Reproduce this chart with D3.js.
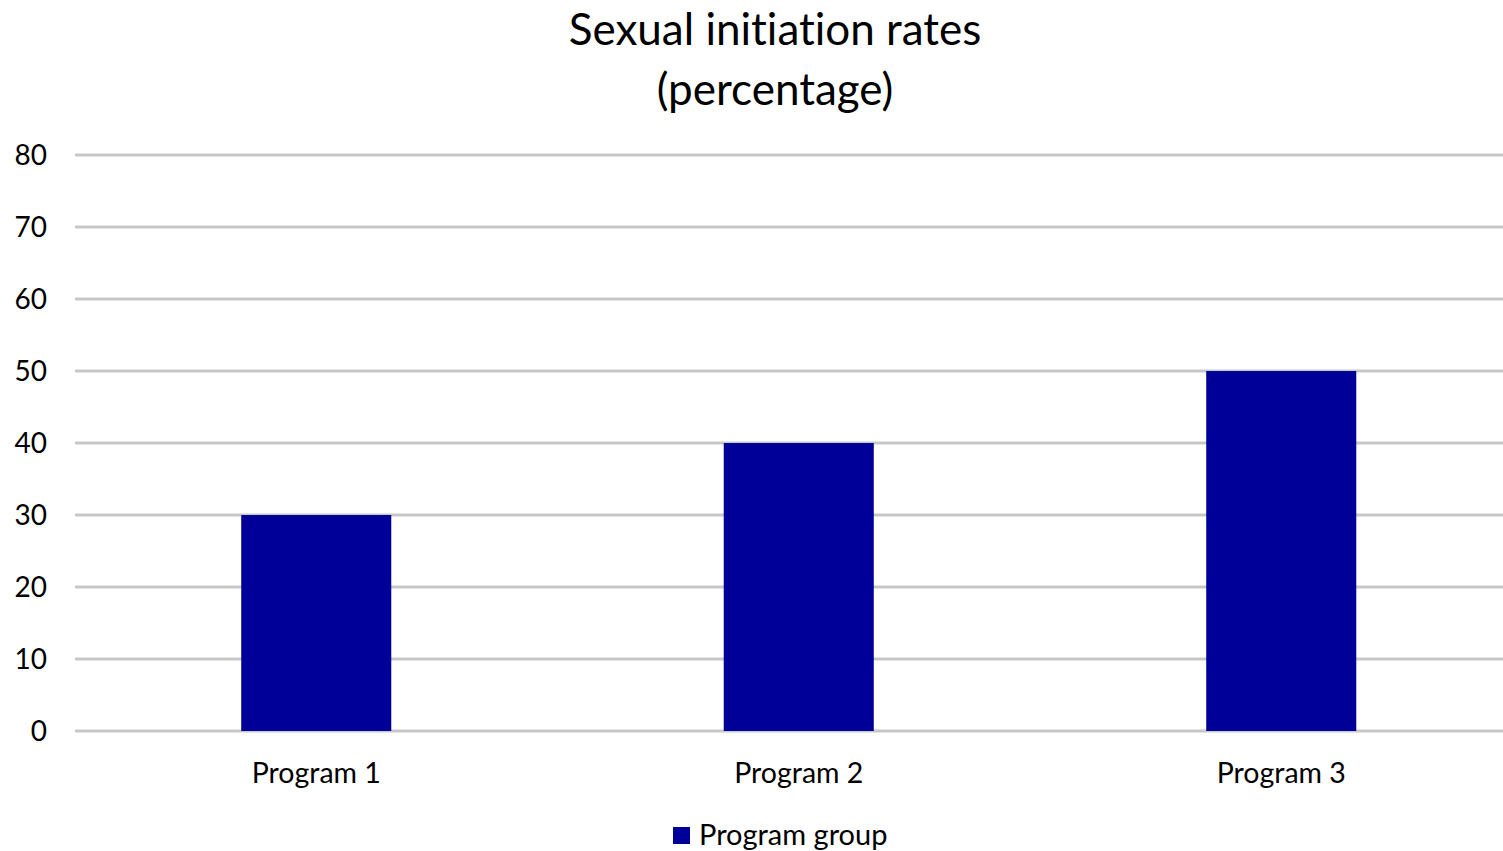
<!DOCTYPE html>
<html>
<head>
<meta charset="utf-8">
<script src="https://cdn.jsdelivr.net/npm/d3@7"></script>
<style>
  body { margin: 0; background: #fff; }
  text { font-family: Lato, "Open Sans", sans-serif; fill: #000; font-variant-ligatures: none; }
</style>
</head>
<body>
<svg id="chart" width="1503" height="851"></svg>
<script>
const categories = ["Program 1", "Program 2", "Program 3"];
const values = [30, 40, 50];
const yTicks = [0, 10, 20, 30, 40, 50, 60, 70, 80];
const seriesName = "Program group";
const titleLines = ["Sexual initiation rates", "(percentage)"];

const svg = d3.select("#chart");
const width = 1503;
const barColor = "#000099";

const x = d3.scaleBand()
    .domain(categories)
    .range([75, 1522.5])
    .paddingInner(0.689)
    .paddingOuter(0.3445);

const y = d3.scaleLinear()
    .domain([0, 80])
    .range([731, 155]);

// Title
svg.selectAll(".title")
    .data(titleLines)
    .enter()
    .append("text")
    .attr("x", 775)
    .attr("y", (d, i) => 45 + i * 60)
    .attr("text-anchor", "middle")
    .attr("font-size", 44)
    .text(d => d);

// Gridlines
svg.selectAll(".grid")
    .data(yTicks)
    .enter()
    .append("line")
    .attr("x1", 75)
    .attr("x2", width)
    .attr("y1", d => y(d))
    .attr("y2", d => y(d))
    .attr("stroke", "#c8c8c8")
    .attr("stroke-width", 3);

// Y axis labels
svg.selectAll(".ylabel")
    .data(yTicks)
    .enter()
    .append("text")
    .attr("x", 47)
    .attr("y", d => y(d))
    .attr("dy", "0.35em")
    .attr("text-anchor", "end")
    .attr("font-size", 28)
    .text(d => d);

// Bars
svg.selectAll(".bar")
    .data(values)
    .enter()
    .append("rect")
    .attr("x", (d, i) => x(categories[i]))
    .attr("width", x.bandwidth())
    .attr("y", d => y(d))
    .attr("height", d => y(0) - y(d))
    .attr("fill", barColor);

// Category labels
svg.selectAll(".xlabel")
    .data(categories)
    .enter()
    .append("text")
    .attr("x", d => x(d) + x.bandwidth() / 2)
    .attr("y", 783)
    .attr("text-anchor", "middle")
    .attr("font-size", 28.5)
    .text(d => d);

// Legend
const legend = svg.append("g");
legend.append("rect")
    .attr("x", 673)
    .attr("y", 827)
    .attr("width", 17)
    .attr("height", 17)
    .attr("fill", barColor);
legend.append("text")
    .attr("x", 699)
    .attr("y", 845)
    .attr("font-size", 29)
    .text(seriesName);
</script>
</body>
</html>
